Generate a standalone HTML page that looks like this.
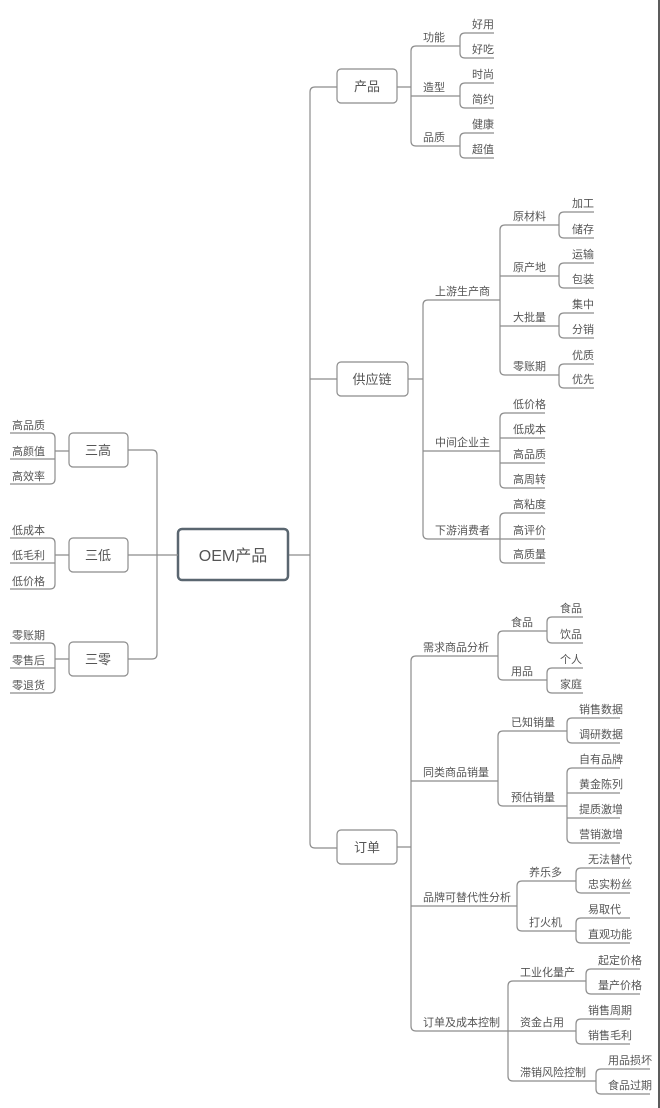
<!DOCTYPE html>
<html><head><meta charset="utf-8"><style>
html,body{margin:0;padding:0;background:#fff;}
svg{display:block;}
text{font-family:"Liberation Sans","Noto Sans CJK SC",sans-serif;font-size:11px;fill:#555;}
.l{fill:none;stroke:#8c8c8c;stroke-width:1.2;}
.b{fill:#fff;stroke:#8c8c8c;stroke-width:1.2;}
.t{font-size:13px;text-anchor:middle;}
</style></head><body>
<svg width="660" height="1108" viewBox="0 0 660 1108">
<line x1="659" y1="0" x2="659" y2="1108" stroke="#333" stroke-width="1.6"/>

<!-- center -->
<path class="l" d="M288 555 H310"/>
<path class="l" d="M337 87 H315 Q310 87 310 92 V843 Q310 848 315 848 H337 M310 379 H337"/>
<rect x="178" y="529" width="110" height="51" rx="4" fill="#fff" stroke="#5a6670" stroke-width="2.5"/>
<text x="233" y="561" style="font-size:16px;text-anchor:middle">OEM产品</text>

<!-- left -->
<path class="l" d="M178 555 H128 M128 450 H152 Q157 450 157 455 V654 Q157 659 152 659 H128"/>
<path class="l" d="M10 433 H50 Q55 433 55 438 V479 Q55 484 50 484 H10 M10 459 H55 M55 451 H69"/>
<path class="l" d="M10 538 H50 Q55 538 55 543 V584 Q55 589 50 589 H10 M10 563 H55 M55 555 H69"/>
<path class="l" d="M10 643 H50 Q55 643 55 648 V688 Q55 693 50 693 H10 M10 668 H55 M55 659 H69"/>
<rect class="b" x="69" y="433" width="59" height="34" rx="4"/><text class="t" x="98" y="455">三高</text>
<rect class="b" x="69" y="538" width="59" height="34" rx="4"/><text class="t" x="98" y="560">三低</text>
<rect class="b" x="69" y="642" width="59" height="34" rx="4"/><text class="t" x="98" y="664">三零</text>
<text x="12" y="429">高品质</text><text x="12" y="455">高颜值</text><text x="12" y="480">高效率</text>
<text x="12" y="534">低成本</text><text x="12" y="559">低毛利</text><text x="12" y="585">低价格</text>
<text x="12" y="639">零账期</text><text x="12" y="664">零售后</text><text x="12" y="689">零退货</text>

<!-- 产品 -->
<rect class="b" x="337" y="69" width="60" height="34" rx="4"/><text class="t" x="367" y="91">产品</text>
<path class="l" d="M397 87 H411 M460 46 H416 Q411 46 411 51 V141 Q411 146 416 146 H460 M411 96 H460"/>
<text x="423" y="41">功能</text><text x="423" y="91">造型</text><text x="423" y="141">品质</text>
<path class="l" d="M494 33 H465 Q460 33 460 38 V53 Q460 58 465 58 H494"/>
<path class="l" d="M494 83 H465 Q460 83 460 88 V103 Q460 108 465 108 H494"/>
<path class="l" d="M494 133 H465 Q460 133 460 138 V153 Q460 158 465 158 H494"/>
<text x="472" y="28">好用</text><text x="472" y="53">好吃</text>
<text x="472" y="78">时尚</text><text x="472" y="103">简约</text>
<text x="472" y="128">健康</text><text x="472" y="153">超值</text>

<!-- 供应链 -->
<rect class="b" x="337" y="362" width="71" height="34" rx="4"/><text class="t" x="372" y="384">供应链</text>
<path class="l" d="M408 379 H423 M500 300 H428 Q423 300 423 305 V534 Q423 539 428 539 H500 M423 451 H500"/>
<text x="435" y="295">上游生产商</text><text x="435" y="446">中间企业主</text><text x="435" y="534">下游消费者</text>
<path class="l" d="M559 225 H505 Q500 225 500 230 V370 Q500 375 505 375 H559 M500 276 H559 M500 326 H559"/>
<text x="513" y="220">原材料</text><text x="513" y="271">原产地</text><text x="513" y="321">大批量</text><text x="513" y="370">零账期</text>
<path class="l" d="M594 212 H564 Q559 212 559 217 V233 Q559 238 564 238 H594"/>
<path class="l" d="M594 263 H564 Q559 263 559 268 V283 Q559 288 564 288 H594"/>
<path class="l" d="M594 313 H564 Q559 313 559 318 V333 Q559 338 564 338 H594"/>
<path class="l" d="M594 364 H564 Q559 364 559 369 V383 Q559 388 564 388 H594"/>
<text x="572" y="207">加工</text><text x="572" y="233">储存</text>
<text x="572" y="258">运输</text><text x="572" y="283">包装</text>
<text x="572" y="308">集中</text><text x="572" y="333">分销</text>
<text x="572" y="359">优质</text><text x="572" y="383">优先</text>
<path class="l" d="M545 413 H505 Q500 413 500 418 V483 Q500 488 505 488 H545 M500 438 H545 M500 463 H545"/>
<text x="513" y="408">低价格</text><text x="513" y="433">低成本</text><text x="513" y="458">高品质</text><text x="513" y="483">高周转</text>
<path class="l" d="M545 513 H505 Q500 513 500 518 V558 Q500 563 505 563 H545 M500 539 H545"/>
<text x="513" y="508">高粘度</text><text x="513" y="534">高评价</text><text x="513" y="558">高质量</text>

<!-- 订单 -->
<rect class="b" x="337" y="830" width="60" height="34" rx="4"/><text class="t" x="367" y="852">订单</text>
<path class="l" d="M397 847 H411 M498 656 H416 Q411 656 411 661 V1026 Q411 1031 416 1031 H508 M411 781 H498 M411 906 H517"/>
<text x="423" y="651">需求商品分析</text><text x="423" y="776">同类商品销量</text><text x="423" y="901">品牌可替代性分析</text><text x="423" y="1026">订单及成本控制</text>

<path class="l" d="M547 631 H503 Q498 631 498 636 V675 Q498 680 503 680 H547"/>
<text x="511" y="626">食品</text><text x="511" y="675">用品</text>
<path class="l" d="M583 617 H552 Q547 617 547 622 V638 Q547 643 552 643 H583"/>
<path class="l" d="M583 668 H552 Q547 668 547 673 V688 Q547 693 552 693 H583"/>
<text x="560" y="612">食品</text><text x="560" y="638">饮品</text><text x="560" y="663">个人</text><text x="560" y="688">家庭</text>

<path class="l" d="M567 731 H503 Q498 731 498 736 V801 Q498 806 503 806 H567"/>
<text x="511" y="726">已知销量</text><text x="511" y="801">预估销量</text>
<path class="l" d="M620 718 H572 Q567 718 567 723 V738 Q567 743 572 743 H620"/>
<path class="l" d="M620 768 H572 Q567 768 567 773 V838 Q567 843 572 843 H620 M567 793 H620 M567 818 H620"/>
<text x="579" y="713">销售数据</text><text x="579" y="738">调研数据</text>
<text x="579" y="763">自有品牌</text><text x="579" y="788">黄金陈列</text><text x="579" y="813">提质激增</text><text x="579" y="838">营销激增</text>

<path class="l" d="M576 881 H522 Q517 881 517 886 V926 Q517 931 522 931 H576"/>
<text x="529" y="876">养乐多</text><text x="529" y="926">打火机</text>
<path class="l" d="M630 868 H581 Q576 868 576 873 V888 Q576 893 581 893 H630"/>
<path class="l" d="M630 918 H581 Q576 918 576 923 V938 Q576 943 581 943 H630"/>
<text x="588" y="863">无法替代</text><text x="588" y="888">忠实粉丝</text><text x="588" y="913">易取代</text><text x="588" y="938">直观功能</text>

<path class="l" d="M586 981 H513 Q508 981 508 986 V1076 Q508 1081 513 1081 H596 M508 1031 H576"/>
<text x="520" y="976">工业化量产</text><text x="520" y="1026">资金占用</text><text x="520" y="1076">滞销风险控制</text>
<path class="l" d="M640 969 H591 Q586 969 586 974 V989 Q586 994 591 994 H640"/>
<path class="l" d="M630 1019 H581 Q576 1019 576 1024 V1039 Q576 1044 581 1044 H630"/>
<path class="l" d="M650 1069 H601 Q596 1069 596 1074 V1089 Q596 1094 601 1094 H650"/>
<text x="598" y="964">起定价格</text><text x="598" y="989">量产价格</text>
<text x="588" y="1014">销售周期</text><text x="588" y="1039">销售毛利</text>
<text x="608" y="1064">用品损坏</text><text x="608" y="1089">食品过期</text>
</svg>
</body></html>
